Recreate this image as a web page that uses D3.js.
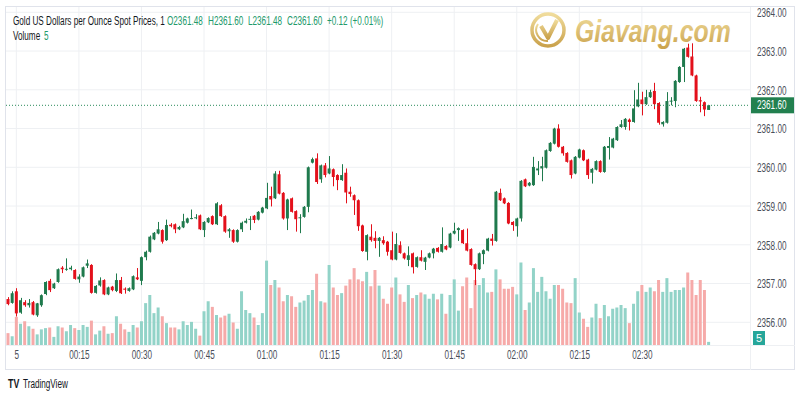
<!DOCTYPE html>
<html>
<head>
<meta charset="utf-8">
<script src="https://cdn.jsdelivr.net/npm/d3@7"></script>
<style>
  body { margin: 0; background: #fff; }
  svg { display: block; font-family: "Liberation Sans", Arial, sans-serif; }
</style>
</head>
<body>
<svg id="chart" width="800" height="400"></svg>
<script>
// 1 minute candles, first one at 23:58 on the 4th
const startTime = new Date(2024, 5, 4, 23, 58)

const open = [
  2356.6, 2356.5, 2356.8, 2356.25, 2356.52, 2356.44, 2356.52, 2356.18, 2356.44, 2356.73,
  2357.07, 2356.88, 2357.04, 2357.41, 2357.36, 2357.37, 2357.35, 2357.11, 2357.18, 2357.46,
  2357.48, 2356.76, 2356.95, 2357.09, 2356.72, 2356.92, 2356.81, 2357.09, 2356.87, 2356.81,
  2356.85, 2357.16, 2357.07, 2357.68, 2357.82, 2358.14, 2358.29, 2358.38, 2358.12, 2358.52,
  2358.53, 2358.4, 2358.45, 2358.57, 2358.68, 2358.69, 2358.76, 2358.38, 2358.58, 2358.74,
  2358.53, 2359.02, 2358.74, 2358.35, 2358.38, 2358.08, 2358.4, 2358.57, 2358.65, 2358.75,
  2358.65, 2358.83, 2358.94, 2359.26, 2359.2, 2359.82, 2359.34, 2358.68, 2359.2, 2358.87,
  2358.69, 2358.72, 2358.98, 2360.12, 2360.23, 2359.69, 2360.05, 2359.84, 2359.95, 2359.8,
  2359.67, 2359.86, 2359.37, 2359.28, 2359.15, 2358.5, 2357.82, 2358.21, 2358.18, 2358.1,
  2358.12, 2358.08, 2357.86, 2357.62, 2357.99, 2357.78, 2357.61, 2357.78, 2357.43, 2357.68,
  2357.56, 2357.67, 2357.78, 2357.92, 2357.82, 2357.97, 2357.93, 2358.29, 2358.38, 2358.38,
  2358.04, 2357.89, 2357.5, 2357.37, 2357.76, 2357.85, 2358.16, 2358.1, 2359.34, 2359.2,
  2359.08, 2358.59, 2358.48, 2358.68, 2359.69, 2359.53, 2359.54, 2359.92, 2359.97, 2359.99,
  2360.42, 2360.61, 2361.0, 2360.53, 2360.37, 2360.18, 2359.84, 2360.25, 2360.44, 2360.2,
  2359.86, 2359.94, 2360.16, 2359.88, 2360.5, 2360.51, 2360.7, 2361.04, 2361.04, 2361.23,
  2361.17, 2361.57, 2361.75, 2361.63, 2361.81, 2361.97, 2361.66, 2361.11, 2361.15, 2361.7,
  2361.71, 2362.2, 2362.59, 2363.09, 2362.86, 2362.37, 2361.73, 2361.68, 2361.48
]
const high = [
  2356.65, 2356.8, 2356.88, 2356.63, 2356.57, 2356.6, 2356.55, 2356.5, 2356.72, 2357.06,
  2357.12, 2357.02, 2357.39, 2357.45, 2357.65, 2357.46, 2357.37, 2357.24, 2357.44, 2357.62,
  2357.5, 2356.96, 2357.16, 2357.11, 2356.92, 2356.94, 2357.26, 2357.17, 2356.9, 2356.9,
  2357.21, 2357.4, 2357.7, 2357.85, 2358.24, 2358.33, 2358.59, 2358.4, 2358.65, 2358.56,
  2358.55, 2358.49, 2358.8, 2358.7, 2358.91, 2358.79, 2358.78, 2358.61, 2358.71, 2358.76,
  2359.1, 2359.05, 2358.76, 2358.43, 2358.4, 2358.4, 2358.6, 2358.68, 2358.74, 2358.77,
  2358.87, 2358.98, 2359.6, 2359.5, 2359.9, 2359.91, 2359.36, 2359.19, 2359.22, 2358.89,
  2358.79, 2359.0, 2360.02, 2360.25, 2360.36, 2360.07, 2360.11, 2360.29, 2359.97, 2359.82,
  2360.08, 2359.97, 2359.5, 2359.3, 2359.17, 2358.52, 2358.27, 2358.53, 2358.35, 2358.2,
  2358.22, 2358.1, 2358.34, 2358.3, 2358.09, 2357.8, 2357.96, 2357.8, 2357.7, 2357.86,
  2357.69, 2357.8, 2357.92, 2357.94, 2358.45, 2357.99, 2358.31, 2358.57, 2358.45, 2358.4,
  2358.42, 2357.91, 2357.52, 2357.8, 2357.88, 2358.18, 2358.28, 2359.39, 2359.45, 2359.22,
  2359.1, 2358.61, 2358.7, 2359.67, 2359.71, 2359.62, 2360.27, 2360.16, 2360.27, 2360.46,
  2360.65, 2361.02, 2361.11, 2360.55, 2360.39, 2360.2, 2360.29, 2360.48, 2360.46, 2360.22,
  2359.98, 2360.18, 2360.18, 2360.55, 2360.78, 2360.76, 2361.06, 2361.22, 2361.27, 2361.26,
  2361.99, 2362.18, 2361.95, 2362.0, 2362.0, 2362.18, 2361.68, 2361.19, 2361.94, 2361.81,
  2362.25, 2362.61, 2363.08, 2363.19, 2363.2, 2362.39, 2361.82, 2361.7, 2361.6
]
const low = [
  2356.44, 2356.48, 2356.15, 2356.22, 2356.4, 2356.38, 2356.18, 2356.14, 2356.4, 2356.7,
  2356.78, 2356.86, 2357.02, 2357.27, 2357.33, 2357.34, 2357.1, 2357.02, 2357.16, 2357.4,
  2356.74, 2356.74, 2356.92, 2356.7, 2356.7, 2356.8, 2356.78, 2356.73, 2356.74, 2356.79,
  2356.83, 2357.09, 2356.96, 2357.6, 2357.8, 2358.12, 2358.27, 2358.03, 2358.1, 2358.45,
  2358.3, 2358.38, 2358.43, 2358.55, 2358.66, 2358.66, 2358.38, 2358.2, 2358.56, 2358.51,
  2358.51, 2358.72, 2358.31, 2358.18, 2358.05, 2358.06, 2358.33, 2358.55, 2358.38, 2358.56,
  2358.63, 2358.81, 2358.92, 2358.99, 2359.18, 2359.3, 2358.65, 2358.38, 2358.83, 2358.34,
  2358.3, 2358.7, 2358.84, 2360.1, 2359.57, 2359.6, 2359.74, 2359.82, 2359.51, 2359.41,
  2359.65, 2359.07, 2359.24, 2358.77, 2358.36, 2357.82, 2357.6, 2358.08, 2357.91, 2357.69,
  2358.0, 2357.72, 2357.6, 2357.6, 2357.77, 2357.62, 2357.45, 2357.26, 2357.41, 2357.57,
  2357.35, 2357.65, 2357.65, 2357.8, 2357.8, 2357.86, 2357.91, 2358.27, 2358.1, 2358.02,
  2357.83, 2357.46, 2356.96, 2357.35, 2357.5, 2357.83, 2357.98, 2358.08, 2359.13, 2359.05,
  2358.53, 2358.36, 2358.21, 2358.6, 2359.49, 2359.51, 2359.52, 2359.8, 2359.64, 2359.97,
  2360.4, 2360.59, 2360.51, 2360.3, 2360.12, 2359.71, 2359.82, 2360.23, 2360.16, 2359.7,
  2359.58, 2359.92, 2359.86, 2359.86, 2360.2, 2360.49, 2360.68, 2361.02, 2360.97, 2360.95,
  2361.15, 2361.55, 2361.34, 2361.61, 2361.79, 2361.5, 2361.1, 2361.05, 2361.13, 2361.6,
  2361.55, 2362.18, 2362.2, 2362.83, 2362.35, 2361.69, 2361.42, 2361.32, 2361.48
]
const close = [
  2356.47, 2356.75, 2356.23, 2356.57, 2356.44, 2356.5, 2356.2, 2356.49, 2356.7, 2357.04,
  2356.83, 2357.0, 2357.37, 2357.37, 2357.38, 2357.41, 2357.12, 2357.18, 2357.42, 2357.52,
  2356.76, 2356.94, 2357.08, 2356.72, 2356.9, 2356.83, 2357.09, 2356.75, 2356.84, 2356.88,
  2357.19, 2357.11, 2357.68, 2357.82, 2358.21, 2358.31, 2358.4, 2358.08, 2358.51, 2358.48,
  2358.4, 2358.46, 2358.61, 2358.68, 2358.69, 2358.71, 2358.4, 2358.59, 2358.69, 2358.53,
  2359.07, 2358.74, 2358.34, 2358.4, 2358.08, 2358.38, 2358.57, 2358.62, 2358.67, 2358.64,
  2358.85, 2358.96, 2359.21, 2359.17, 2359.84, 2359.32, 2358.68, 2359.17, 2358.85, 2358.66,
  2358.71, 2358.98, 2360.0, 2360.21, 2359.62, 2360.05, 2359.8, 2359.97, 2359.75, 2359.67,
  2359.8, 2359.35, 2359.31, 2359.15, 2358.48, 2357.84, 2358.25, 2358.12, 2358.1, 2358.18,
  2358.04, 2357.82, 2357.62, 2358.02, 2357.79, 2357.65, 2357.73, 2357.42, 2357.68, 2357.59,
  2357.67, 2357.78, 2357.9, 2357.82, 2358.02, 2357.88, 2358.29, 2358.36, 2358.43, 2358.04,
  2357.85, 2357.48, 2357.37, 2357.78, 2357.86, 2358.16, 2358.1, 2359.37, 2359.15, 2359.07,
  2358.55, 2358.51, 2358.68, 2359.65, 2359.51, 2359.6, 2360.01, 2359.97, 2360.03, 2360.44,
  2360.63, 2361.0, 2360.53, 2360.36, 2360.14, 2359.8, 2360.27, 2360.46, 2360.18, 2359.8,
  2359.96, 2360.16, 2359.88, 2360.53, 2360.55, 2360.74, 2361.04, 2361.11, 2361.25, 2361.17,
  2361.52, 2361.75, 2361.63, 2361.81, 2361.94, 2361.63, 2361.15, 2361.17, 2361.71, 2361.72,
  2362.23, 2362.59, 2363.06, 2362.85, 2362.37, 2361.71, 2361.7, 2361.49, 2361.6
]
const volume = [
  19, 14, 45, 34, 38, 30, 26, 17, 25, 27,
  28, 13, 30, 28, 22, 32, 27, 24, 32, 29,
  39, 17, 23, 30, 18, 19, 46, 34, 25, 21,
  32, 28, 38, 67, 80, 51, 60, 46, 35, 28,
  28, 25, 38, 32, 37, 26, 15, 54, 70, 61,
  48, 44, 47, 50, 36, 26, 86, 56, 51, 44,
  32, 51, 135, 96, 104, 92, 70, 80, 78, 61,
  68, 71, 80, 88, 114, 70, 68, 128, 92, 80,
  83, 95, 105, 123, 105, 102, 117, 94, 120, 95,
  74, 66, 92, 108, 81, 69, 96, 75, 80, 84,
  81, 74, 82, 73, 82, 50, 80, 105, 55, 94,
  108, 59, 104, 96, 107, 84, 85, 121, 105, 90,
  90, 93, 81, 132, 56, 68, 123, 85, 109, 86,
  74, 96, 96, 90, 68, 67, 107, 52, 42, 29,
  44, 66, 43, 64, 46, 58, 60, 64, 59, 35,
  66, 86, 96, 85, 92, 86, 104, 85, 107, 85,
  88, 88, 92, 116, 104, 80, 104, 88, 5
]

const priceTicks = [2356, 2357, 2358, 2359, 2360, 2361, 2362, 2363, 2364]
const timeTicks = ["00:00", "00:15", "00:30", "00:45", "01:00", "01:15", "01:30", "01:45", "02:00", "02:15", "02:30"]
const timeLabels = ["5", "00:15", "00:30", "00:45", "01:00", "01:15", "01:30", "01:45", "02:00", "02:15", "02:30"]

const lastPrice = 2361.60
const lastVolume = 5

const upColor = "#1f7a4d", downColor = "#e3101b"
const upVol = "#92d3c8", downVol = "#f6aaa9"
const gridColor = "#eef0f3", borderColor = "#e0e3eb"
// the screenshot is squeezed sideways, so all text gets the same squeeze
const squeeze = 0.68

const svg = d3.select("#chart")
const defs = svg.append("defs")
const pane = { left: 6, right: 750, top: 7, bottom: 345 }

const times = open.map((d, i) => d3.timeMinute.offset(startTime, i))
const candles = open.map((o, i) => ({ t: times[i], o: o, h: high[i], l: low[i], c: close[i], v: volume[i] }))

const x = d3.scaleTime().domain([times[0], times[times.length - 1]]).range([8, 708.6])
const y = d3.scaleLinear().domain([2356, 2364]).range([322.3, 12.3])
const yVol = d3.scaleLinear().domain([0, 160]).range([pane.bottom, pane.bottom - 100])

const parseTick = d3.timeParse("%Y-%m-%d %H:%M")
const tickDates = timeTicks.map(t => parseTick("2024-06-05 " + t))

defs.append("clipPath").attr("id", "clip")
  .append("rect").attr("x", pane.left).attr("y", pane.top)
  .attr("width", pane.right - pane.left).attr("height", pane.bottom - pane.top)

// grid
const grid = svg.append("g")
grid.selectAll(".gx").data(tickDates).enter().append("line")
  .attr("x1", d => x(d)).attr("x2", d => x(d))
  .attr("y1", pane.top).attr("y2", pane.bottom)
  .attr("stroke", gridColor)
grid.selectAll(".gy").data(priceTicks).enter().append("line")
  .attr("x1", pane.left).attr("x2", pane.right)
  .attr("y1", d => y(d)).attr("y2", d => y(d))
  .attr("stroke", gridColor)

// watermark logo
const gold = defs.append("linearGradient").attr("id", "gold")
  .attr("x1", 0).attr("y1", 0).attr("x2", 0).attr("y2", 1)
gold.append("stop").attr("offset", "0%").attr("stop-color", "#f0dc9c")
gold.append("stop").attr("offset", "100%").attr("stop-color", "#caa24c")
const logo = svg.append("g")
logo.append("circle").attr("cx", 548).attr("cy", 30).attr("r", 16)
  .attr("fill", "none").attr("stroke", "url(#gold)").attr("stroke-width", 3.5)
logo.append("path").attr("d", "M538,24 A11,11 0 0 0 548,41")
  .attr("fill", "none").attr("stroke", "url(#gold)").attr("stroke-width", 2)
logo.append("path").attr("d", "M541,26 L548,38 L557,20")
  .attr("fill", "none").attr("stroke", "url(#gold)").attr("stroke-width", 4)
  .attr("stroke-linejoin", "round")
logo.append("text").attr("transform", "translate(575,42) scale(0.8,1)")
  .attr("font-size", 31).attr("font-weight", "bold").attr("font-style", "italic")
  .attr("fill", "url(#gold)").text("Giavang.com")

const plot = svg.append("g").attr("clip-path", "url(#clip)")

// volume
const bw = 3
plot.selectAll(".vol").data(candles).enter().append("rect")
  .attr("x", d => x(d.t) - bw / 2).attr("width", bw)
  .attr("y", d => yVol(d.v)).attr("height", d => yVol(0) - yVol(d.v))
  .attr("fill", d => d.c >= d.o ? upVol : downVol)

// candles
const cg = plot.selectAll(".candle").data(candles).enter().append("g")
cg.append("line")
  .attr("x1", d => Math.round(x(d.t)) + 0.5).attr("x2", d => Math.round(x(d.t)) + 0.5)
  .attr("y1", d => y(d.h)).attr("y2", d => y(d.l))
  .attr("stroke", d => d.c >= d.o ? upColor : downColor)
cg.append("rect")
  .attr("x", d => x(d.t) - bw / 2).attr("width", bw)
  .attr("y", d => y(Math.max(d.o, d.c)))
  .attr("height", d => Math.max(1, Math.abs(y(d.o) - y(d.c))))
  .attr("fill", d => d.c >= d.o ? upColor : downColor)

// last price line
plot.append("line")
  .attr("x1", pane.left).attr("x2", pane.right)
  .attr("y1", y(lastPrice)).attr("y2", y(lastPrice))
  .attr("stroke", "#2a8a5a").attr("stroke-dasharray", "1,2")

// frame
svg.append("rect").attr("x", pane.left - 0.5).attr("y", pane.top - 0.5)
  .attr("width", 795 - pane.left).attr("height", 370 - pane.top)
  .attr("fill", "none").attr("stroke", borderColor)
svg.append("line").attr("x1", pane.right + 0.5).attr("x2", pane.right + 0.5)
  .attr("y1", pane.top).attr("y2", 370).attr("stroke", gridColor)
svg.append("line").attr("x1", pane.left).attr("x2", 795)
  .attr("y1", pane.bottom + 0.5).attr("y2", pane.bottom + 0.5).attr("stroke", gridColor)

// squeezed text helper: x, y in page pixels
function squeezed(sel, px, py) {
  return sel.attr("transform", "translate(" + px + "," + py + ") scale(" + squeeze + ",1)")
}

// price axis (clip is in the group's own coordinates)
defs.append("clipPath").attr("id", "clipAxis")
  .append("rect").attr("x", 0).attr("y", pane.top).attr("width", 50).attr("height", 340)
const yAxis = svg.append("g").attr("transform", "translate(" + pane.right + ",0)")
const yAxisInner = yAxis.append("g").attr("clip-path", "url(#clipAxis)")
  .call(d3.axisRight(y).tickValues(priceTicks).tickFormat(d3.format(".2f")).tickSize(0).tickPadding(0))
yAxisInner.select(".domain").remove()
yAxisInner.selectAll(".tick text")
  .attr("font-size", 12).attr("fill", "#4a4e59").attr("x", null).attr("dy", "0.35em")
  .attr("font-family", "Liberation Sans, Arial, sans-serif")
  .attr("transform", "translate(7,0) scale(" + squeeze + ",1)")

// price badge
const pb = svg.append("g").attr("transform", "translate(751," + y(lastPrice) + ")")
pb.append("rect").attr("x", 0).attr("y", -8).attr("width", 43).attr("height", 16).attr("fill", "#22804f")
squeezed(pb.append("text"), 6, 4).attr("fill", "#fff").attr("font-size", 12).text(lastPrice.toFixed(2))

// volume badge
const vb = svg.append("g").attr("transform", "translate(753,331)")
vb.append("rect").attr("width", 12).attr("height", 14).attr("fill", "#26a69a")
vb.append("text").attr("x", 6).attr("y", 11).attr("text-anchor", "middle")
  .attr("fill", "#fff").attr("font-size", 11).text(lastVolume)

// time axis
const xAxis = svg.append("g").attr("transform", "translate(0," + pane.bottom + ")")
  .call(d3.axisBottom(x).tickValues(tickDates).tickFormat((d, i) => timeLabels[i]).tickSize(0).tickPadding(0))
xAxis.select(".domain").remove()
xAxis.selectAll(".tick text")
  .attr("font-size", 12).attr("fill", "#4a4e59").attr("y", null).attr("dy", null)
  .attr("font-family", "Liberation Sans, Arial, sans-serif")
  .attr("transform", "translate(0,14) scale(" + squeeze + ",1)")

// legend
const legend = svg.append("g").attr("font-size", 12)
const legendItems = [
  { text: "Gold US Dollars per Ounce Spot Prices, 1", x: 13, color: "#131722" },
  { text: "O2361.48", x: 167, color: "#22996a" },
  { text: "H2361.60", x: 208, color: "#22996a" },
  { text: "L2361.48", x: 248, color: "#22996a" },
  { text: "C2361.60", x: 287, color: "#22996a" },
  { text: "+0.12 (+0.01%)", x: 327, color: "#22996a" }
]
legend.selectAll("text").data(legendItems).enter().append("text")
  .attr("transform", d => "translate(" + d.x + ",25) scale(" + squeeze + ",1)")
  .attr("fill", d => d.color).text(d => d.text)
squeezed(legend.append("text"), 13, 40).attr("fill", "#131722").text("Volume")
squeezed(legend.append("text"), 44, 40).attr("fill", "#22996a").text(lastVolume)

// TradingView mark
const tv = svg.append("g").attr("transform", "translate(8,388)")
squeezed(tv.append("text"), 0, 0).attr("font-size", 13).attr("font-weight", "bold")
  .attr("fill", "#131722").text("TV")
squeezed(tv.append("text"), 15, 0).attr("font-size", 12).attr("fill", "#131722").text("TradingView")
</script>
</body>
</html>
